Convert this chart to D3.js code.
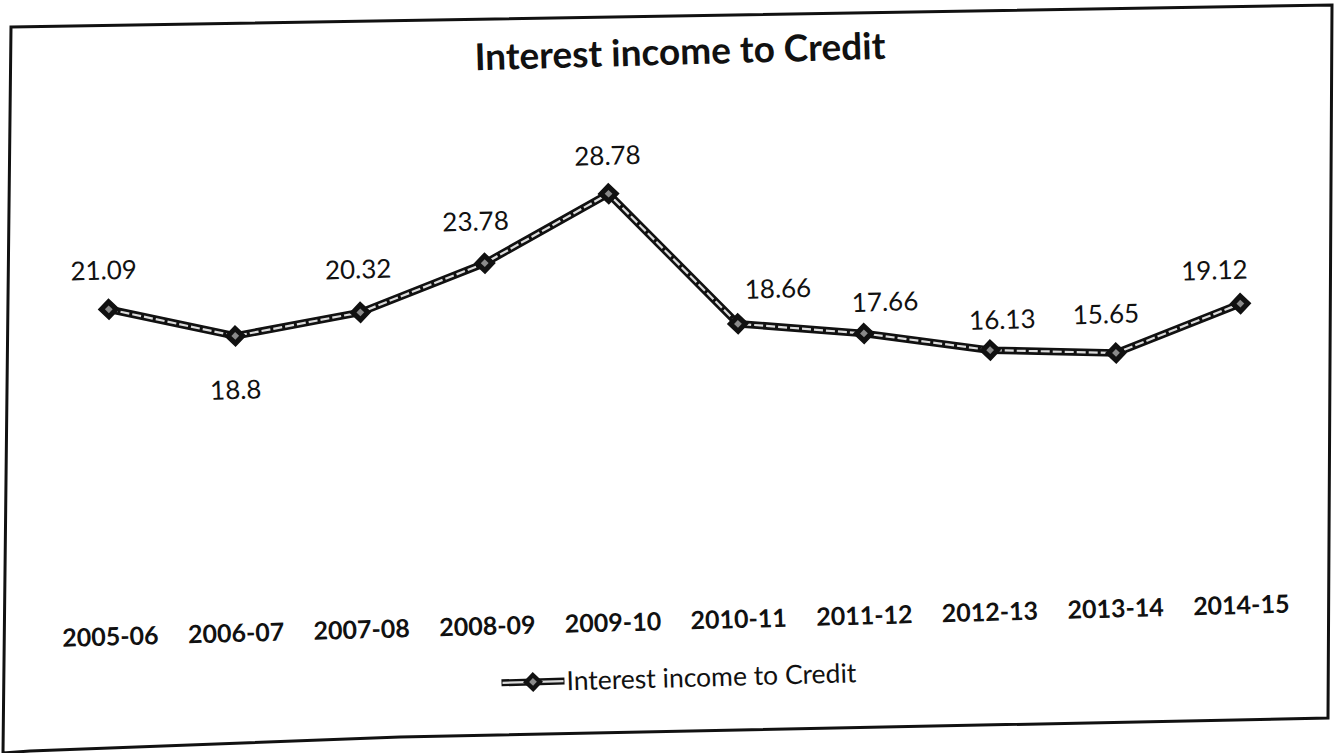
<!DOCTYPE html>
<html><head><meta charset="utf-8">
<script src="https://cdn.jsdelivr.net/npm/d3@7"></script>
<style>body{margin:0;background:#fff;overflow:hidden}</style>
</head><body><svg id="c" width="1339" height="753"></svg>
<script>
// ---- data ----
const chartTitle = "Interest income to Credit";
const seriesName = "Interest income to Credit";
const categories = ["2005-06","2006-07","2007-08","2008-09","2009-10","2010-11","2011-12","2012-13","2013-14","2014-15"];
const values = [21.09, 18.8, 20.32, 23.78, 28.78, 18.66, 17.66, 16.13, 15.65, 19.12];
const yDomain = [0, 35];
// ---- layout (label placement offsets, px) ----
const labelOffsets = [[-4,-39],[-1,54],[-1,-43],[-8,-42],[0,-38],[41,-34],[22,-31],[13,-30],[-9,-39],[-25,-34]];

const W = 1339, H = 753;
const svg = d3.select("#c");
const ink = "#111";
const font = "Lato, 'Open Sans', sans-serif";

// scanned border
const border = [[11,27],[1332,5],[1328,718],[400,737],[30,751],[3,753]];
svg.append("path").attr("d", d3.line()(border) + "Z")
  .attr("fill","none").attr("stroke",ink).attr("stroke-width",3).attr("stroke-linejoin","miter");

const g = svg.append("g").attr("transform","rotate(-1.6,670,376)");

const x = d3.scalePoint().domain(categories).range([48,1305]).padding(0.5);
const y = d3.scaleLinear().domain(yDomain).range([572,110]);

// title
g.append("text").attr("x",689).attr("y",52).attr("dy","0.35em")
  .attr("text-anchor","middle").attr("font-family",font).attr("font-weight",700)
  .attr("font-size",37).attr("fill",ink).text(chartTitle);

// x axis labels (no line)
const xAxis = d3.axisBottom(x).tickSize(0).tickPadding(0);
const ax = g.append("g").attr("transform","translate(-8,621)").call(xAxis);
ax.select(".domain").remove();
ax.selectAll("text").attr("dy","0.35em").attr("y",0).attr("font-family",font)
  .attr("font-weight",700).attr("font-size",25).attr("fill",ink);

// line
const line = d3.line().x((d,i)=>x(categories[i])).y(d=>y(d));
g.append("path").datum(values).attr("d",line).attr("fill","none")
  .attr("stroke",ink).attr("stroke-width",7.5).attr("stroke-linejoin","miter");
g.append("path").datum(values).attr("d",line).attr("fill","none")
  .attr("stroke","#dcdcdc").attr("stroke-width",2.2).attr("stroke-dasharray","9,3");

// markers
const sq = d3.symbol(d3.symbolSquare, 200);
const sqIn = d3.symbol(d3.symbolSquare, 30);
const mk = g.selectAll(".mk").data(values).join("g").attr("class","mk")
  .attr("transform",(d,i)=>`translate(${x(categories[i])},${y(d)}) rotate(45)`);
mk.append("path").attr("d",sq).attr("fill",ink).attr("stroke",ink).attr("stroke-width",1.5);
mk.append("path").attr("d",sqIn).attr("fill","#8a8a8a");

// data labels
g.selectAll(".dl").data(values).join("text").attr("class","dl")
  .attr("x",(d,i)=>x(categories[i]) + labelOffsets[i][0])
  .attr("y",(d,i)=>y(d) + labelOffsets[i][1])
  .attr("dy","0.35em").attr("text-anchor","middle")
  .attr("font-family",font).attr("font-size",26).attr("fill",ink)
  .text(d=>d);

// legend
const lg = g.append("g").attr("transform","translate(493,678)");
lg.append("line").attr("x1",0).attr("x2",63).attr("stroke",ink).attr("stroke-width",7);
lg.append("line").attr("x1",1).attr("x2",62).attr("stroke","#dcdcdc").attr("stroke-width",2.2);
lg.append("path").attr("d",sq).attr("transform","translate(31.5,0) rotate(45)").attr("fill",ink);
lg.append("path").attr("d",sqIn).attr("transform","translate(31.5,0) rotate(45)").attr("fill","#8a8a8a");
lg.append("text").attr("x",65).attr("y",0).attr("dy","0.35em")
  .attr("font-family",font).attr("font-size",26.5).attr("fill",ink).text(seriesName);
</script></body></html>
